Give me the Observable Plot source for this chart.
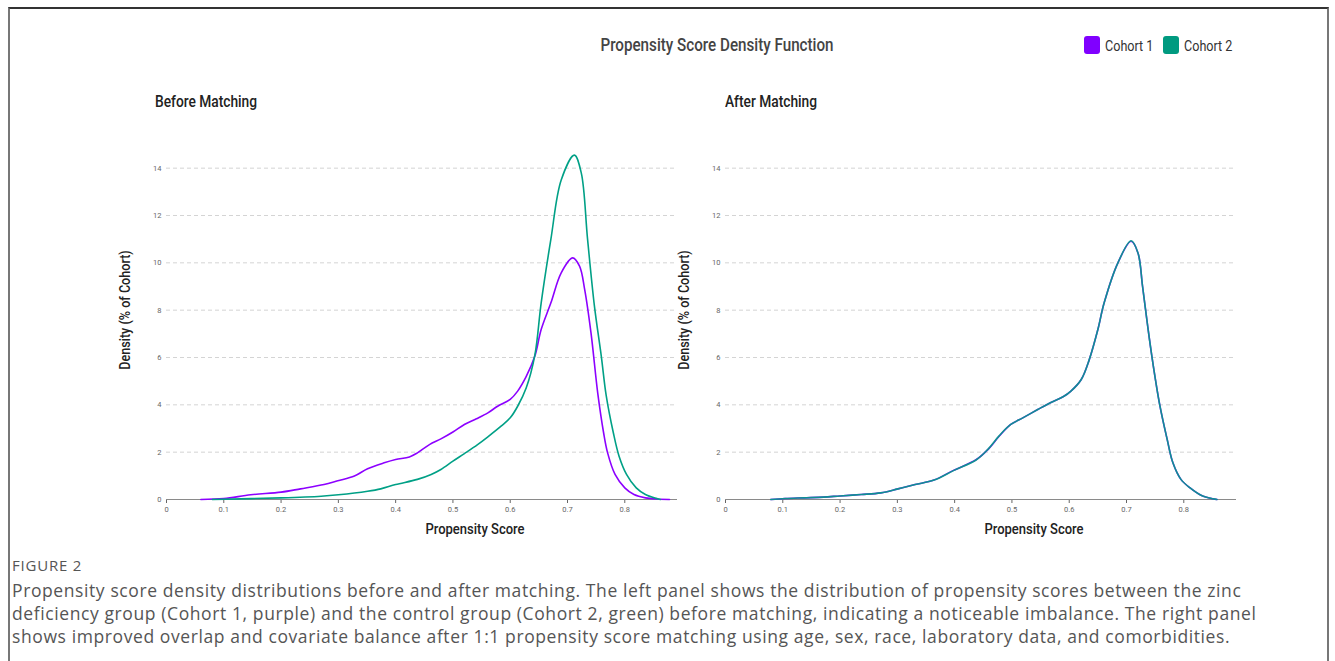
<!DOCTYPE html>
<html>
<head>
<meta charset="utf-8">
<script src="https://cdn.jsdelivr.net/npm/d3@7"></script>
<script src="https://cdn.jsdelivr.net/npm/@observablehq/plot@0.6"></script>
<style>
  html, body { margin: 0; padding: 0; background: #fff; }
  body { width: 1335px; height: 661px; position: relative; overflow: hidden; font-family: Roboto, sans-serif; }
  .frame { position: absolute; left: 8px; top: 7px; width: 1317px; height: 680px; border-top: 2px solid #333; border-left: 2px solid #777; border-right: 2px solid #777; }
  .cond { position: absolute; white-space: nowrap; font-family: Roboto, sans-serif; }
  .chart { position: absolute; }
  .caption { position: absolute; left: 12px; font-family: "Open Sans", sans-serif; color: #555; white-space: nowrap; }
</style>
</head>
<body>
<div class="frame"></div>
<div id="root"></div>
<script>
// ---------- data ----------
const cohorts = ["Cohort 1", "Cohort 2"];
const colors = ["#8c00ff", "#00a086"];
const panelTitles = ["Before Matching", "After Matching"];
const xTicks = [0, 0.1, 0.2, 0.3, 0.4, 0.5, 0.6, 0.7, 0.8];
const yTicks = [0, 2, 4, 6, 8, 10, 12, 14];

// Before matching, Cohort 1 (purple)
const beforeC1X = [0.06,0.10,0.147,0.2,0.234,0.275,0.299,0.328,0.351,0.38,0.4,0.424,0.438,0.459,0.479,0.5,0.52,0.541,0.561,0.578,0.6,0.613,0.628,0.643,0.654,0.671,0.689,0.709,0.721,0.73,0.741,0.753,0.763,0.770,0.783,0.8,0.816,0.836,0.857,0.878];
const beforeC1Y = [0,0.04,0.2,0.31,0.45,0.63,0.79,0.99,1.3,1.55,1.69,1.8,1.97,2.32,2.56,2.85,3.17,3.41,3.66,3.94,4.23,4.58,5.2,6.06,7.18,8.31,9.58,10.21,9.86,8.87,7.04,4.45,2.82,1.97,1.06,0.49,0.21,0.07,0.02,0];
// Before matching, Cohort 2 (green)
const beforeC2X = [0.08,0.2,0.27,0.3,0.351,0.374,0.4,0.438,0.462,0.479,0.5,0.52,0.543,0.561,0.584,0.6,0.613,0.628,0.643,0.654,0.671,0.689,0.712,0.724,0.735,0.747,0.759,0.7675,0.78,0.79,0.803,0.82,0.836,0.856,0.862];
const beforeC2Y = [0,0.07,0.14,0.2,0.35,0.45,0.63,0.85,1.06,1.27,1.62,1.94,2.32,2.65,3.1,3.45,3.94,4.72,6.1,8.3,11.0,13.5,14.55,13.8,11.0,8.17,6.05,4.4,2.82,1.83,1.06,0.49,0.21,0.04,0];
// After matching (both cohorts nearly identical)
const afterC1X = [0.079,0.104,0.137,0.171,0.2,0.237,0.271,0.301,0.331,0.364,0.398,0.438,0.458,0.478,0.498,0.519,0.545,0.568,0.59,0.603,0.621,0.635,0.65,0.661,0.685,0.708,0.72,0.728,0.737,0.746,0.758,0.771,0.781,0.795,0.811,0.831,0.851,0.858];
const afterC1Y = [0,0.04,0.07,0.1,0.15,0.21,0.28,0.45,0.63,0.82,1.23,1.69,2.11,2.68,3.17,3.45,3.8,4.1,4.35,4.58,5.07,5.91,7.18,8.31,10.0,10.91,10.42,9.01,7.32,5.77,4.0,2.54,1.55,0.85,0.49,0.17,0.03,0];
const afterC2X = afterC1X;
const afterC2Y = [0,0.04,0.07,0.1,0.15,0.21,0.28,0.45,0.63,0.82,1.22,1.68,2.12,2.7,3.17,3.45,3.8,4.1,4.35,4.58,5.07,5.91,7.18,8.31,10.0,10.93,10.42,9.01,7.32,5.77,4.0,2.54,1.55,0.85,0.49,0.17,0.03,0];

// ---------- build ----------
function rows(xs, ys, cohort) { return xs.map((x, i) => ({x, y: ys[i], cohort})); }
const panels = [
  {data: [rows(beforeC1X, beforeC1Y, cohorts[0]), rows(beforeC2X, beforeC2Y, cohorts[1])], left: 100, titleLeft: 155, opac: [1, 1]},
  {data: [rows(afterC1X, afterC1Y, cohorts[0]), rows(afterC2X, afterC2Y, cohorts[1])], left: 659, titleLeft: 725, opac: [1, 0.9]}
];
const root = document.getElementById("root");

function addText(txt, css) {
  const d = document.createElement("div");
  d.className = "cond";
  d.textContent = txt;
  Object.assign(d.style, css);
  root.appendChild(d);
  return d;
}

panels.forEach((p, pi) => {
  const chart = Plot.plot({
    width: 591, height: 430,
    marginLeft: 66, marginRight: 14, marginTop: 24, marginBottom: 51,
    x: {domain: [0, 0.892], ticks: xTicks, tickFormat: d => String(d), tickSize: 4, tickPadding: 3, label: null},
    y: {domain: [0, 15], ticks: yTicks, tickSize: 0, tickPadding: 5, label: null},
    style: {fontFamily: "Roboto, sans-serif", fontSize: "7.5px", color: "#666", background: "transparent", overflow: "visible"},
    marks: [
      Plot.gridY(yTicks.filter(v => v > 0), {stroke: "#d4d4d4", strokeOpacity: 1, strokeDasharray: "4,3", strokeWidth: 1}),
      Plot.ruleY([0], {stroke: "#8a8a8a", strokeWidth: 1.2}),
      Plot.line(p.data[0], {x: "x", y: "y", stroke: colors[0], strokeWidth: 1.6, curve: "catmull-rom", strokeOpacity: p.opac[0]}),
      Plot.line(p.data[1], {x: "x", y: "y", stroke: colors[1], strokeWidth: 1.6, curve: "catmull-rom", strokeOpacity: p.opac[1]})
    ]
  });
  chart.classList.add("chart");
  chart.style.left = p.left + "px";
  chart.style.top = "120px";
  root.appendChild(chart);

  const axisLeft = p.left + 66;
  // panel title
  addText(panelTitles[pi], {left: p.titleLeft + "px", top: "92px", fontSize: "16px", fontWeight: "500", color: "#222",
    transform: "scaleX(0.86)", transformOrigin: "left center"});
  // x axis title
  addText("Propensity Score", {left: (axisLeft + 309) + "px", top: "520px", fontSize: "15.5px", fontWeight: "500", color: "#222",
    transform: "translateX(-50%) scaleX(0.84)"});
  // y axis title
  addText("Density (% of Cohort)", {left: (axisLeft - 41) + "px", top: "310px", fontSize: "15px", fontWeight: "500", color: "#222",
    transform: "translate(-50%, -50%) rotate(-90deg) scaleX(0.84)"});
});

// main title
addText("Propensity Score Density Function", {left: "717px", top: "33px", fontSize: "19px", fontWeight: "500", color: "#444",
  transform: "translateX(-50%) scaleX(0.8)"});

// legend
const legX = [1084, 1163];
cohorts.forEach((c, i) => {
  const sw = document.createElement("div");
  Object.assign(sw.style, {position: "absolute", left: legX[i] + "px", top: "36px", width: "16px", height: "18px", borderRadius: "3px", background: i === 0 ? "#8000ff" : "#009a80"});
  root.appendChild(sw);
  addText(c, {left: (legX[i] + 21) + "px", top: "37px", fontSize: "15px", color: "#333", transform: "scaleX(0.84)", transformOrigin: "left center"});
});

// caption
const cap = document.createElement("div");
cap.className = "caption";
cap.style.top = "555px";
cap.innerHTML = '<div style="font-size:15px;font-weight:500;color:#555;letter-spacing:0.8px;line-height:20px">FIGURE 2</div>' +
  '<div style="font-size:17.5px;line-height:23px;margin-top:4px;letter-spacing:0.6px;color:#555">' +
  '<div>Propensity score density distributions before and after matching. The left panel shows the distribution of propensity scores between the zinc</div>' +
  '<div>deficiency group (Cohort 1, purple) and the control group (Cohort 2, green) before matching, indicating a noticeable imbalance. The right panel</div>' +
  '<div>shows improved overlap and covariate balance after 1:1 propensity score matching using age, sex, race, laboratory data, and comorbidities.</div>' +
  '</div>';
root.appendChild(cap);
</script>
</body>
</html>
